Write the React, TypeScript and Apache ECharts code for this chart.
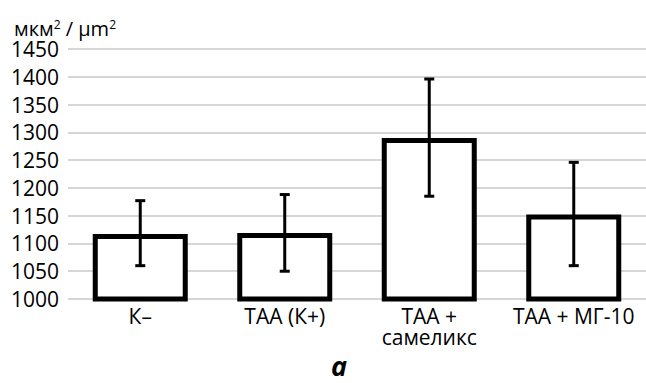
import React, { useEffect, useRef } from "react";
import * as echarts from "echarts";

const categories = ["К–", "ТАА (К+)", "ТАА +\nсамеликс", "ТАА + МГ-10"];
const means = [1117, 1119, 1290, 1152];
const errLow = [1060, 1050, 1185, 1060];
const errHigh = [1177, 1188, 1396, 1246];
const yMin = 1000;
const yMax = 1450;
const yStep = 50;

export default function App() {
  const ref = useRef<HTMLDivElement>(null);
  useEffect(() => {
    const chart = echarts.init(ref.current!, null, { renderer: "svg" });
    const font = "'Open Sans', 'Noto Sans', sans-serif";
    chart.setOption({
      animation: false,
      textStyle: { fontFamily: font },
      title: [
        {
          text: "мкм{sup|2} / µm{sup|2}",
          left: 9,
          top: 13,
          textStyle: {
            fontFamily: font,
            fontSize: 20,
            fontWeight: "normal",
            color: "#000",
            lineHeight: 20,
            rich: {
              sup: { fontSize: 12, lineHeight: 20, verticalAlign: "top", color: "#000", fontFamily: font },
            },
          },
        },
        {
          text: "a",
          left: 326,
          top: 347,
          textStyle: { fontFamily: font, fontSize: 27, fontStyle: "italic", fontWeight: "bold", color: "#000" },
        },
      ],
      grid: { left: 68, top: 49, width: 581, height: 250, containLabel: false },
      xAxis: {
        type: "category",
        data: categories,
        axisLine: { show: false },
        axisTick: { show: false },
        axisLabel: { color: "#000", fontSize: 21, fontFamily: font, margin: 6, lineHeight: 21, interval: 0, hideOverlap: false },
      },
      yAxis: {
        type: "value",
        min: yMin,
        max: yMax,
        interval: yStep,
        axisLine: { show: false },
        axisTick: { show: false },
        splitLine: { lineStyle: { color: "#c8c8c8", width: 1.5 } },
        axisLabel: { color: "#000", fontSize: 21, fontFamily: font, margin: 9, formatter: (v: number) => String(v) },
      },
      series: [
        {
          type: "bar",
          data: means,
          barWidth: 95,
          itemStyle: { color: "#fff", borderColor: "#000", borderWidth: 5 },
        },
        {
          type: "custom",
          data: categories.map((_, i) => [i, errLow[i], errHigh[i]]),
          renderItem: (params: any, api: any) => {
            const x = api.value(0);
            const lo = api.coord([x, api.value(1)]);
            const hi = api.coord([x, api.value(2)]);
            const cap = 5;
            const style = { stroke: "#000", lineWidth: 3 };
            return {
              type: "group",
              children: [
                { type: "line", shape: { x1: lo[0], y1: lo[1], x2: hi[0], y2: hi[1] }, style },
                { type: "line", shape: { x1: hi[0] - cap, y1: hi[1], x2: hi[0] + cap, y2: hi[1] }, style },
                { type: "line", shape: { x1: lo[0] - cap, y1: lo[1], x2: lo[0] + cap, y2: lo[1] }, style },
              ],
            };
          },
          z: 10,
        },
      ],
    });
    return () => chart.dispose();
  }, []);
  return <div ref={ref} style={{ width: 646, height: 383, position: "absolute", left: 0, top: 0, background: "#fff" }} />;
}
